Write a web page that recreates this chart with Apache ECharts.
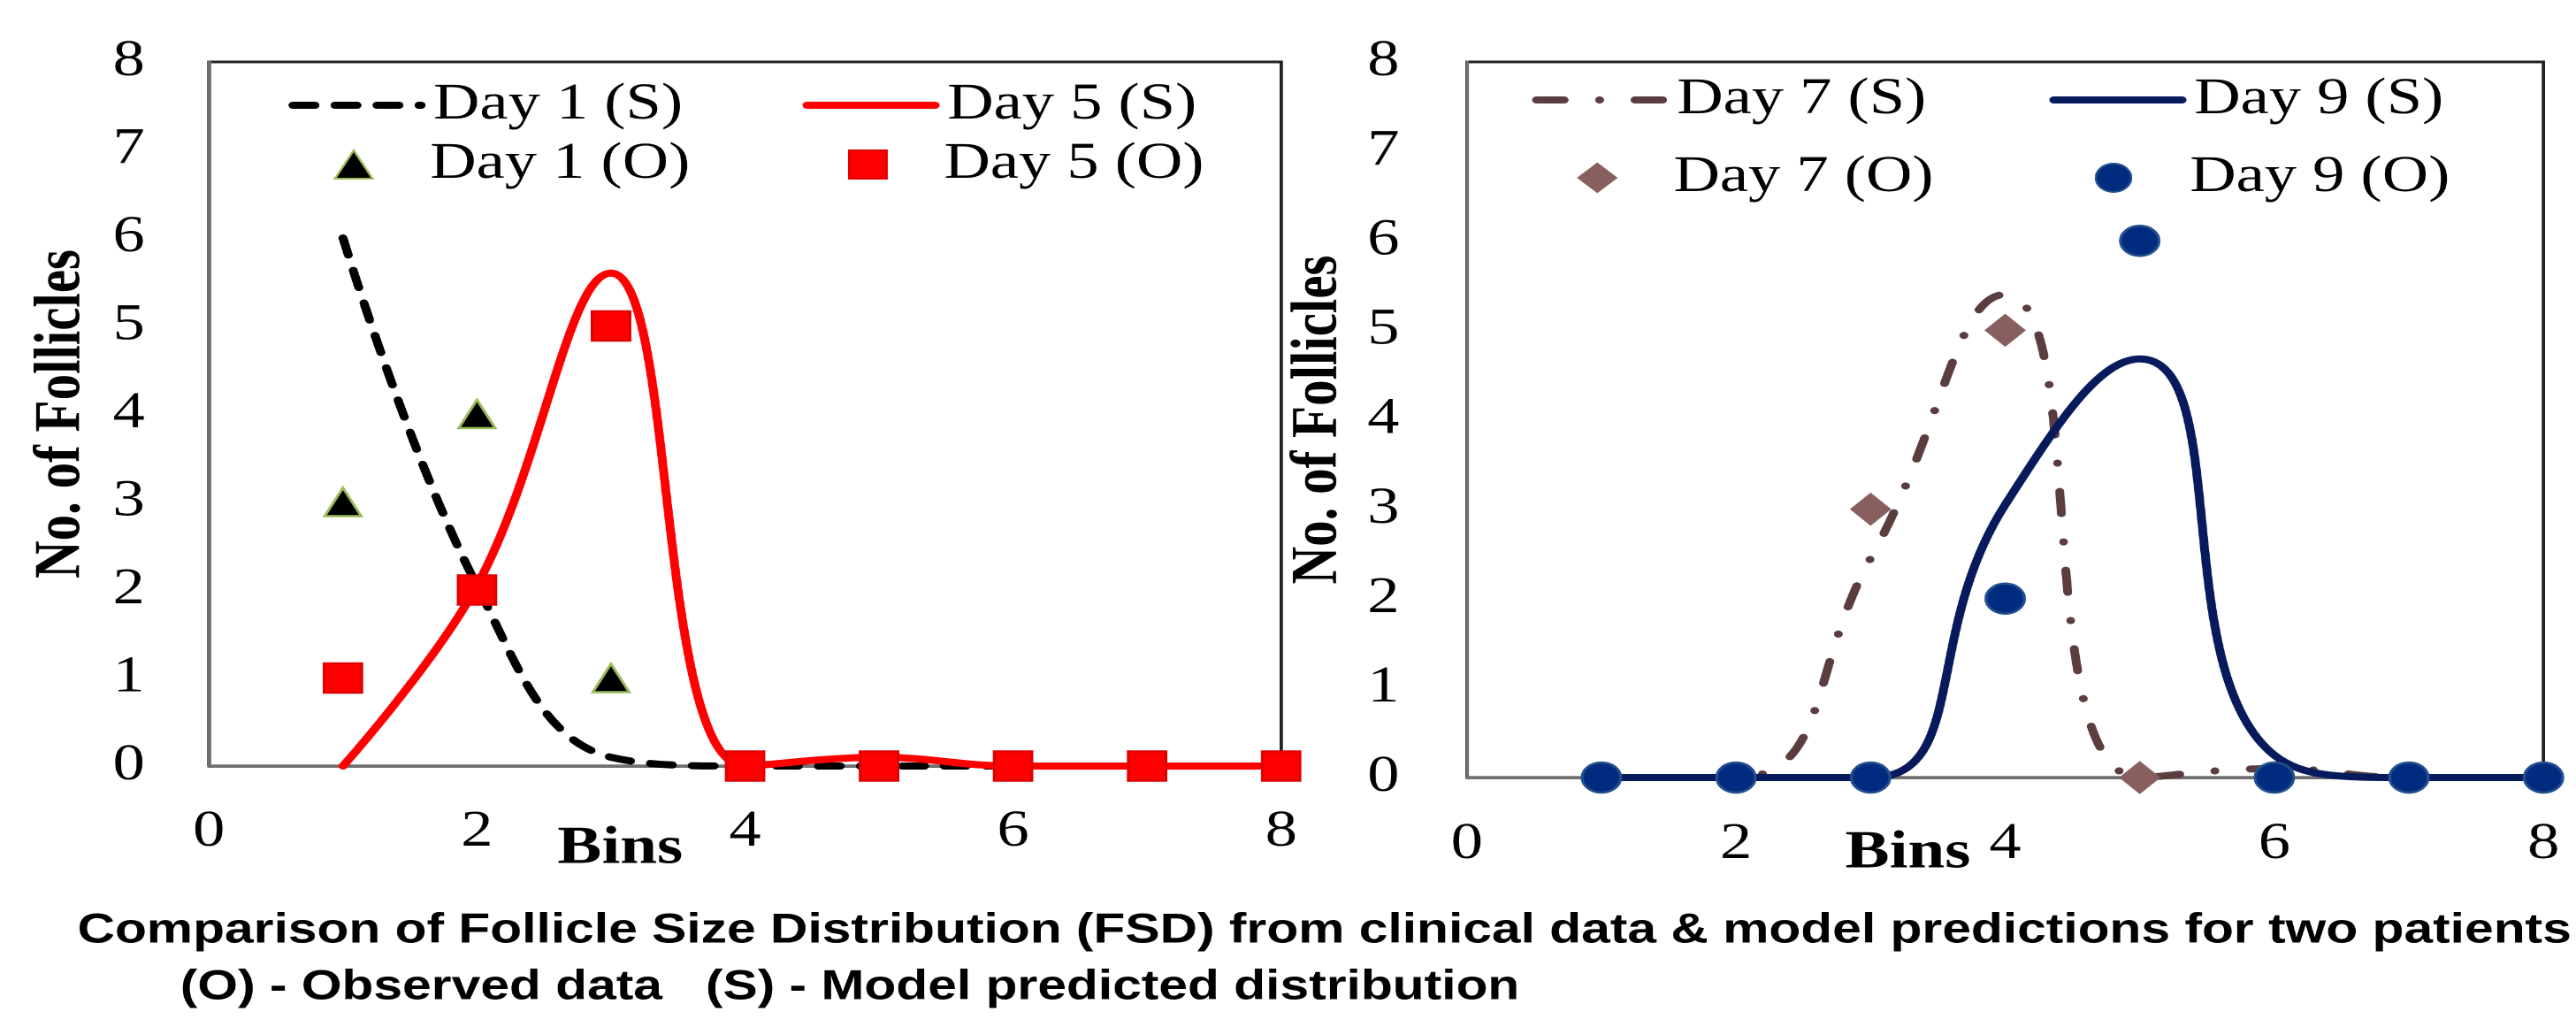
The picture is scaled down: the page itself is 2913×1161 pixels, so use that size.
<!DOCTYPE html>
<html>
<head>
<meta charset="utf-8">
<title>Follicle Size Distribution</title>
<script src="https://cdn.jsdelivr.net/npm/echarts@6/dist/echarts.min.js"></script>
<style>
    html, body { margin: 0; padding: 0; background: #fff; overflow: hidden; }
    /* the source figure is stretched sideways, so draw narrow and widen */
    #chart { width: 2330px; height: 1161px; transform: scaleX(1.25); transform-origin: 0 0; }
</style>
</head>
<body>
<div id="chart"></div>
<script>
    const bins = [1, 2, 3, 4, 5, 6, 7, 8];
    const xTicks = [0, 2, 4, 6, 8];
    const yTicks = [0, 1, 2, 3, 4, 5, 6, 7, 8];

    // patient 1
    const day1Sim = [6, 2.05, 0.1, 0, 0, 0, 0, 0];
    const day5Sim = [0, 2.05, 5.6, 0, 0.1, 0, 0, 0];
    const day1Obs = [3, 4, 1, null, null, null, null, null];
    const day5Obs = [1, 2, 5, 0, 0, 0, 0, 0];

    // patient 2
    const day7Sim = [0, 0, 2.45, 5.4, 0, 0.1, 0, 0];
    const day9Sim = [0, 0, 0, 3.05, 4.68, 0.25, 0, 0];
    const day7Obs = [null, null, 3, 5, 0, null, null, null];
    const day9Obs = [0, 0, 0, 2, 6, 0, 0, 0];

    const caption1 = 'Comparison of Follicle Size Distribution (FSD) from clinical data & model predictions for two patients';
    const caption2 = '(O) - Observed data   (S) - Model predicted distribution';

    const serif = "'Liberation Serif', 'Times New Roman', serif";
    const sans = "'Liberation Sans', Arial, sans-serif";

    function pairs(ys) {
        return bins.map((b, i) => [b, ys[i]]).filter(p => p[1] !== null);
    }

    function simLine(name, ys, idx, color, dash, smooth) {
        return {
            name: name,
            type: 'line',
            xAxisIndex: idx,
            yAxisIndex: idx,
            data: pairs(ys),
            smooth: smooth,
            symbol: 'none',
            clip: false,
            z: 2,
            lineStyle: { color: color, width: 8, type: dash, cap: 'round' },
            itemStyle: { color: color }
        };
    }

    function obsPoints(name, ys, idx, symbol, size, fill, border) {
        return {
            name: name,
            type: 'scatter',
            xAxisIndex: idx,
            yAxisIndex: idx,
            data: pairs(ys),
            symbol: symbol,
            symbolSize: size,
            clip: false,
            z: 3,
            itemStyle: { color: fill, borderColor: border, borderWidth: 2.5, opacity: 1 }
        };
    }

    function xAxis(idx, labelMargin, nameGap, shift) {
        return {
            type: 'value',
            gridIndex: idx,
            min: xTicks[0],
            max: xTicks[xTicks.length - 1],
            interval: xTicks[1] - xTicks[0],
            axisLine: { show: true, onZero: false, lineStyle: { color: '#707070', width: 3 } },
            axisTick: { show: false },
            splitLine: { show: false },
            axisLabel: { margin: labelMargin, fontFamily: serif, fontSize: 58, color: '#000' },
            name: 'Bins',
            nameLocation: 'middle',
            nameGap: nameGap,
            nameMoveOverlap: false,
            nameTextStyle: {
                fontFamily: serif, fontWeight: 'bold', fontSize: 60, color: '#000',
                padding: [0, shift * 2, 0, 0]
            }
        };
    }

    function yAxis(idx, labelMargin, nameGap) {
        return {
            type: 'value',
            gridIndex: idx,
            min: yTicks[0],
            max: yTicks[yTicks.length - 1],
            interval: yTicks[1] - yTicks[0],
            axisLine: { show: true, lineStyle: { color: '#707070', width: 3 } },
            axisTick: { show: false },
            splitLine: { show: false },
            axisLabel: { margin: labelMargin, fontFamily: serif, fontSize: 58, color: '#000' },
            name: 'No. of Follicles',
            nameLocation: 'middle',
            nameGap: nameGap,
            nameMoveOverlap: false,
            nameTextStyle: { fontFamily: serif, fontWeight: 'bold', fontSize: 59, color: '#000' }
        };
    }

    // one legend per entry so that markers sit centred under the line samples
    const lineW = 116, markW = 34;
    function legendItem(name, left, top, isLine) {
        const w = isLine ? lineW : markW;
        const inset = (lineW - markW) / 2;
        return {
            left: isLine ? left : left + inset,
            top: top,
            padding: 0,
            itemWidth: w,
            itemHeight: 32,
            selectedMode: false,
            lineStyle: { width: 8, cap: 'round' },
            textStyle: {
                fontFamily: serif, fontSize: 58, color: '#000',
                padding: [0, 0, 0, isLine ? 6 : 6 + inset]
            },
            data: [isLine ? { name: name, itemStyle: { color: 'rgba(0,0,0,0)', borderWidth: 0 } } : name]
        };
    }

    const chart = echarts.init(document.getElementById('chart'), null, { devicePixelRatio: 2 });
    chart.setOption({
        animation: false,
        backgroundColor: '#fff',
        title: [
            { text: caption1, left: 70, top: 1029, padding: 0,
              textStyle: { fontFamily: sans, fontWeight: 'bold', fontSize: 47, color: '#000' } },
            { text: caption2, left: 163, top: 1093, padding: 0,
              textStyle: { fontFamily: sans, fontWeight: 'bold', fontSize: 47, color: '#000' } }
        ],
        grid: [
            { left: 189, top: 70, width: 970, height: 796, show: true, borderColor: '#222', borderWidth: 3, outerBoundsMode: 'none' },
            { left: 1327, top: 70, width: 974, height: 809, show: true, borderColor: '#222', borderWidth: 3, outerBoundsMode: 'none' }
        ],
        xAxis: [xAxis(0, 46, 64, 113), xAxis(1, 47, 56, 88)],
        yAxis: [yAxis(0, 58, 103), yAxis(1, 61, 104)],
        legend: [
            legendItem('Day 1 (S)', 261, 90, true),
            legendItem('Day 1 (O)', 261, 157, false),
            legendItem('Day 5 (S)', 726, 90, true),
            legendItem('Day 5 (O)', 726, 157, false),
            legendItem('Day 7 (S)', 1386, 84, true),
            legendItem('Day 7 (O)', 1386, 172, false),
            legendItem('Day 9 (S)', 1854, 84, true),
            legendItem('Day 9 (O)', 1854, 172, false)
        ],
        series: [
            simLine('Day 1 (S)', day1Sim, 0, '#000000', [20, 18], 0.4),
            simLine('Day 5 (S)', day5Sim, 0, '#ff0000', 'solid', 0.4),
            obsPoints('Day 1 (O)', day1Obs, 0, 'triangle', [33, 32], '#000000', '#9bbb59'),
            obsPoints('Day 5 (O)', day5Obs, 0, 'rect', [34, 33], '#ff0000', '#e00000'),
            simLine('Day 7 (S)', day7Sim, 1, '#5c3d3f', [25, 32, 0.1, 32], 0.5),
            simLine('Day 9 (S)', day9Sim, 1, '#061a5c', 'solid', 0.5),
            obsPoints('Day 7 (O)', day7Obs, 1, 'diamond', [34, 34], '#865f5e', '#865f5e'),
            obsPoints('Day 9 (O)', day9Obs, 1, 'circle', [35, 34], '#012b7e', '#22508f')
        ]
    });
</script>
</body>
</html>
